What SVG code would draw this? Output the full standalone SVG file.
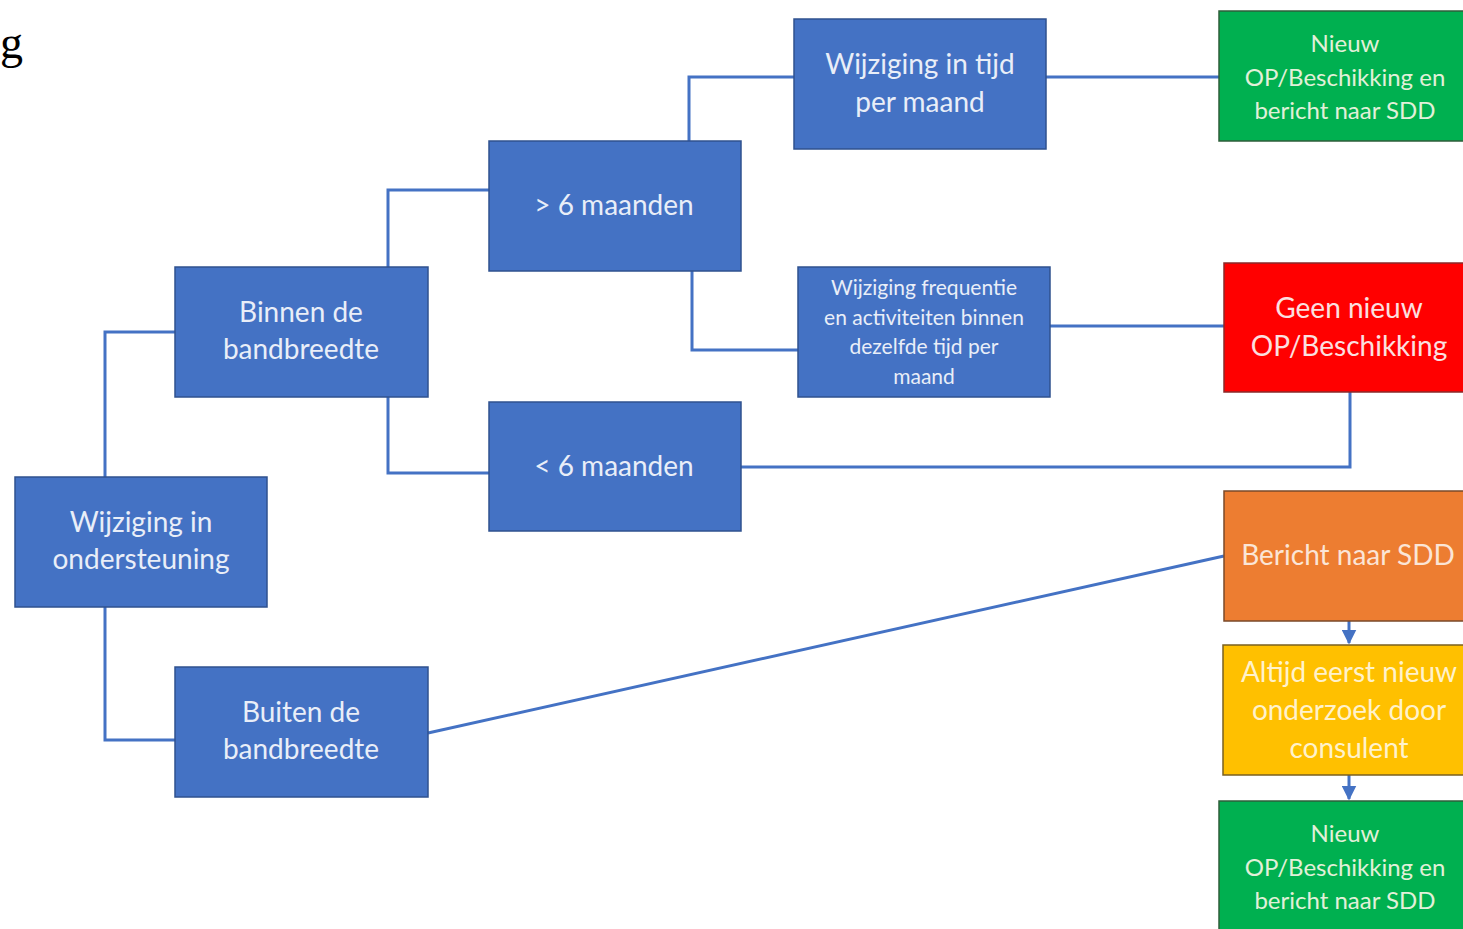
<svg xmlns="http://www.w3.org/2000/svg" width="1463" height="929" viewBox="0 0 1463 929">
<style>
.n{stroke:#2f528f;stroke-width:1.5}
.b{fill:#4472c4}
.t{font-family:Lato,"Open Sans","Liberation Sans",sans-serif;text-anchor:middle;fill:#e9eef8}
.c{fill:none;stroke:#4472c4;stroke-width:3}
</style>
<defs>
<marker id="ah" viewBox="0 0 10 10" refX="9" refY="5" markerWidth="5" markerHeight="5" orient="auto" markerUnits="strokeWidth">
<path d="M0,0 L10,5 L0,10 z" fill="#4472c4"/>
</marker>
</defs>
<rect width="1463" height="929" fill="#fff"/>
<text x="0" y="58" font-family="Liberation Serif,serif" font-size="46" fill="#000">g</text>
<g id="connectors">
<path class="c" d="M105,477 V332 H175"/>
<path class="c" d="M105,607 V740 H175"/>
<path class="c" d="M388,267 V190 H489"/>
<path class="c" d="M388,397 V473 H489"/>
<path class="c" d="M689,141 V77 H794"/>
<path class="c" d="M692,271 V350 H798"/>
<path class="c" d="M1046,77 H1219"/>
<path class="c" d="M1050,326 H1224"/>
<path class="c" d="M741,467 H1350 V392"/>
<path class="c" d="M428,733 L1224,556"/>
<path class="c" d="M1349,621 V643" marker-end="url(#ah)"/>
<path class="c" d="M1349,775 V799" marker-end="url(#ah)"/>
</g>
<g id="n1"><rect class="n b" x="15" y="477" width="252" height="130"/><text class="t" x="141" y="532" font-size="28">Wijziging in</text><text class="t" x="141" y="569" font-size="28">ondersteuning</text></g>
<g id="n2"><rect class="n b" x="175" y="267" width="253" height="130"/><text class="t" x="301" y="322" font-size="28">Binnen de</text><text class="t" x="301" y="359" font-size="28">bandbreedte</text></g>
<g id="n3"><rect class="n b" x="175" y="667" width="253" height="130"/><text class="t" x="301" y="722" font-size="28">Buiten de</text><text class="t" x="301" y="759" font-size="28">bandbreedte</text></g>
<g id="n4"><rect class="n b" x="489" y="141" width="252" height="130"/><text class="t" x="614" y="215" font-size="28">&gt; 6 maanden</text></g>
<g id="n5"><rect class="n b" x="489" y="402" width="252" height="129"/><text class="t" x="614" y="476" font-size="28">&lt; 6 maanden</text></g>
<g id="n6"><rect class="n b" x="794" y="19" width="252" height="130"/><text class="t" x="920" y="74" font-size="28">Wijziging in tijd</text><text class="t" x="920" y="112" font-size="28">per maand</text></g>
<g id="n7"><rect class="n b" x="798" y="267" width="252" height="130"/><text class="t" x="924" y="295" font-size="21">Wijziging frequentie</text><text class="t" x="924" y="325" font-size="21">en activiteiten binnen</text><text class="t" x="924" y="354" font-size="21">dezelfde tijd per</text><text class="t" x="924" y="384" font-size="21">maand</text></g>
<g id="n8"><rect x="1219" y="11" width="252" height="130" fill="#00b050" stroke="#2e5d3a" stroke-width="1.5"/><text class="t" x="1345" y="52" font-size="24" style="fill:#e2f0d9">Nieuw</text><text class="t" x="1345" y="86" font-size="24" style="fill:#e2f0d9">OP/Beschikking en</text><text class="t" x="1345" y="119" font-size="24" style="fill:#e2f0d9">bericht naar SDD</text></g>
<g id="n9"><rect x="1224" y="263" width="250" height="129" fill="#ff0000" stroke="#8b2a2a" stroke-width="1.5"/><text class="t" x="1349" y="318" font-size="28" style="fill:#fbe0e0">Geen nieuw</text><text class="t" x="1349" y="356" font-size="28" style="fill:#fbe0e0">OP/Beschikking</text></g>
<g id="n10"><rect x="1224" y="491" width="250" height="130" fill="#ed7d31" stroke="#7a4a2a" stroke-width="1.5"/><text class="t" x="1348" y="565" font-size="28" style="fill:#fbe5d6">Bericht naar SDD</text></g>
<g id="n11"><rect x="1223" y="645" width="251" height="130" fill="#ffc000" stroke="#7a6020" stroke-width="1.5"/><text class="t" x="1349" y="682" font-size="28" style="fill:#fff2cc">Altijd eerst nieuw</text><text class="t" x="1349" y="720" font-size="28" style="fill:#fff2cc">onderzoek door</text><text class="t" x="1349" y="758" font-size="28" style="fill:#fff2cc">consulent</text></g>
<g id="n12"><rect x="1219" y="801" width="252" height="135" fill="#00b050" stroke="#2e5d3a" stroke-width="1.5"/><text class="t" x="1345" y="842" font-size="24" style="fill:#e2f0d9">Nieuw</text><text class="t" x="1345" y="876" font-size="24" style="fill:#e2f0d9">OP/Beschikking en</text><text class="t" x="1345" y="909" font-size="24" style="fill:#e2f0d9">bericht naar SDD</text></g>
</svg>
